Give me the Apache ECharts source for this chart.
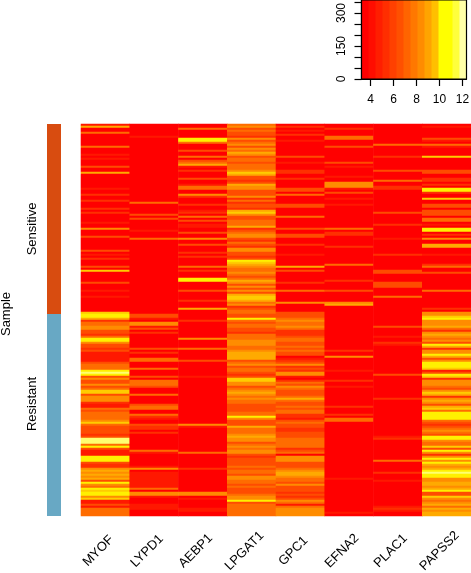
<!DOCTYPE html>
<html><head><meta charset="utf-8">
<style>html,body{margin:0;padding:0;background:#fff}#c{width:471px;height:573px}</style>
<script src="https://cdn.jsdelivr.net/npm/echarts@6/dist/echarts.min.js"></script>
</head><body><div id="c"></div>
<script>
var genes = ['MYOF','LYPD1','AEBP1','LPGAT1','GPC1','EFNA2','PLAC1','PAPSS2'];
var groups = ['Sensitive','Resistant'];
var groupStarts = [0,95];
var groupEnds = [95,196];
var groupLabelRows = [52.5,140];
var groupColors = ['#D84C10','#68A8C4'];
var levelColors = ['#ff0000','#ff1800','#ff3000','#ff4c00','#ff6c00','#ff8c00','#ffaa00','#ffcc00','#fff000','#ffff70'];
// expression level (0-9) per sample row
var MYOF = ["1600400000","0400010100","0300600000","0010020020","0020200001","0050003000","0003010200","0307000003","0001001000","0000788624","4553324885","3323111113","4448983533","5347735552","1143444457","4333323999","4831118883","2256565638","5487885711","314444"];
var LYPD1 = ["0000001000","0000000000","0000000000","0000000004","0000030300","0001000400","0000000000","0000000000","0000000000","0000033105","5130200000","0030200440","0040003044","4300040000","3440042100","3220200000","0004100000","0150111111","1140551000","111000"];
var AEBP1 = ["0040000884","0003004034","6102000300","1440052000","2001204030","1100300500","3000202000","0402000880","0003000020","0060000020","0000000500","0040000030","0000001000","0000000000","0000000000","5100000000","0000400000","0020000000","0000550100","001100"];
var LPGAT1 = ["4534332534","5354653443","4445763323","6553335242","3326753344","4623455324","3255332387","6544543465","3535367764","5234433843","4433244455","5445666634","5344323775","5345654544","3333448533","3644456553","4545532333","3434435544","3433345583","444444"];
var GPC1 = ["0201020010","0000003001","0002200200","0033040000","3300004000","0030033000","2000010000","0603000002","0004000005","0000333454","4542223443","3434330123","5232551024","3543334643","3434422134","3322333444","4423405553","3345665443","5333232354","145555"];
var EFNA2 = ["0020004400","0300000003","0100001005","5510300100","1000000000","0040220000","0200000000","4000000020","0003000005","6000000000","0000000000","0002005000","0001000020","0100000000","0200020440","0000000000","0000000000","0000000100","0000000000","000010"];
var PLAC1 = ["0000000000","4000002000","0003000040","0220000000","0000300000","2000000100","0000020000","0003300003","3300004000","0000000000","0300001002","1000000000","0000030000","0000000200","0000000000","0000001200","0000000040","0000200010","0000000000","012100"];
var PAPSS2 = ["0100000310","4100007000","0003300220","2088200700","3303330440","1088020500","6600010000","2400300000","0004000000","0020557855","5642565453","8625586358","8871387255","5435762565","3674888843","2345438854","4738525858","6568988556","6568337545","646566"];
// colour key
var keyBreaks = [3.2,3.81,4.42,5.03,5.64,6.25,6.86,7.47,8.08,8.69,9.3,9.91,10.52,11.13,11.74,12.35];
var keyColors = ['#ff0000','#ff0d00','#ff1e00','#ff2e00','#ff4000','#ff5000','#ff6400','#ff7800','#ff8c00','#ffa400','#ffbf00','#ffff00','#ffff00','#ffff3c','#ffffa8'];
var keyCounts = [359,359,359,359,359,359,359,359,359,359,359,359,359,359,359];
var keyXTicks = [4,6,8,10,12];
var keyYTicks = [0,50,100,150,200,250,300,350];
var keyYLabels = [0,150,300];

var columns = [MYOF,LYPD1,AEBP1,LPGAT1,GPC1,EFNA2,PLAC1,PAPSS2];
var nRows = columns[0].join('').length;
var rowNames = []; for (var i=0;i<nRows;i++) rowNames.push(String(i));
var cells = [];
columns.forEach(function(col,cx){
  col.join('').split('').forEach(function(ch,r){ cells.push([cx,r,+ch]); });
});
var font = '"Liberation Sans", Arial, sans-serif';
var chart = echarts.init(document.getElementById('c'),null,{renderer:'canvas'});
chart.setOption({
  animation:false,
  backgroundColor:'#fff',
  grid:[
    {left:81,top:124,width:390,height:392,outerBoundsMode:'none'},
    {left:47,top:124,width:14,height:392,outerBoundsMode:'none'},
    {left:361.5,top:0,width:105,height:79,show:true,borderColor:'#000',borderWidth:1.2,backgroundColor:'transparent',z:5,outerBoundsMode:'none'},
    {left:74,top:516,width:390,height:1,outerBoundsMode:'none'}
  ],
  xAxis:[
    {gridIndex:0,type:'category',data:genes,axisLine:{show:false},axisTick:{show:false},axisLabel:{show:false},splitArea:{show:false}},
    {gridIndex:1,type:'category',data:['Sample'],axisLine:{show:false},axisTick:{show:false},axisLabel:{show:false}},
    {gridIndex:2,type:'value',min:3.2,max:12.35,splitLine:{show:false},
      axisLine:{show:true,lineStyle:{color:'#000',width:1.2}},
      axisTick:{show:true,length:7,customValues:keyXTicks,lineStyle:{color:'#000',width:1.2}},
      axisLabel:{show:true,customValues:keyXTicks,margin:15,color:'#000',fontFamily:font,fontSize:12}},
    {gridIndex:3,type:'category',data:genes,axisLine:{show:false},axisTick:{show:false},
      axisLabel:{show:true,interval:0,rotate:45,align:'center',verticalAlign:'middle',margin:34,color:'#000',fontFamily:font,fontSize:13}}
  ],
  yAxis:[
    {gridIndex:0,type:'category',data:rowNames,inverse:true,axisLine:{show:false},axisTick:{show:false},axisLabel:{show:false}},
    {gridIndex:1,type:'value',inverse:true,min:0,max:nRows,splitLine:{show:false},axisLine:{show:false},axisTick:{show:false},axisLabel:{show:false},
      name:'Sample',nameLocation:'middle',nameRotate:90,nameGap:34,nameTextStyle:{color:'#000',fontFamily:font,fontSize:13,padding:[0,0,0,12]}},
    {gridIndex:2,type:'value',min:0,max:359,splitLine:{show:false},
      axisLine:{show:true,lineStyle:{color:'#000',width:1.2}},
      axisTick:{show:true,length:7,customValues:keyYTicks,lineStyle:{color:'#000',width:1.2}},
      axisLabel:{show:true,customValues:keyYLabels,rotate:90,margin:14,color:'#000',fontFamily:font,fontSize:12}},
    {gridIndex:3,type:'value',show:false}
  ],
  visualMap:{show:false,type:'continuous',seriesIndex:0,min:0,max:9,dimension:2,inRange:{color:levelColors}},
  series:[
    {type:'heatmap',xAxisIndex:0,yAxisIndex:0,data:cells,progressive:0,itemStyle:{borderWidth:0},emphasis:{disabled:true}},
    {type:'custom',xAxisIndex:1,yAxisIndex:1,clip:false,silent:true,
      data:groups.map(function(g,i){return [0,groupStarts[i],groupEnds[i],groupLabelRows[i]];}),
      renderItem:function(params,api){
        var a=api.coord([0,api.value(1)]), b=api.coord([0,api.value(2)]), t=api.coord([0,api.value(3)]);
        var w=api.size([1,0])[0];
        return {type:'group',children:[
          {type:'rect',shape:{x:a[0]-w/2,y:a[1],width:w,height:b[1]-a[1]},style:{fill:groupColors[params.dataIndex]}},
          {type:'text',x:32.5,y:t[1],rotation:Math.PI/2,style:{text:groups[params.dataIndex],fill:'#000',font:'13px '+font,align:'center',verticalAlign:'middle'}}
        ]};
      }},
    {type:'custom',xAxisIndex:2,yAxisIndex:2,clip:true,silent:true,
      data:keyColors.map(function(c,i){return [keyBreaks[i],keyBreaks[i+1],keyCounts[i]];}),
      encode:{x:[0,1],y:2},
      renderItem:function(params,api){
        var a=api.coord([api.value(0),api.value(2)]), b=api.coord([api.value(1),0]);
        return {type:'rect',shape:{x:a[0],y:a[1],width:b[0]-a[0]+0.5,height:b[1]-a[1]},style:{fill:keyColors[params.dataIndex]}};
      }}
  ]
});
</script></body></html>
